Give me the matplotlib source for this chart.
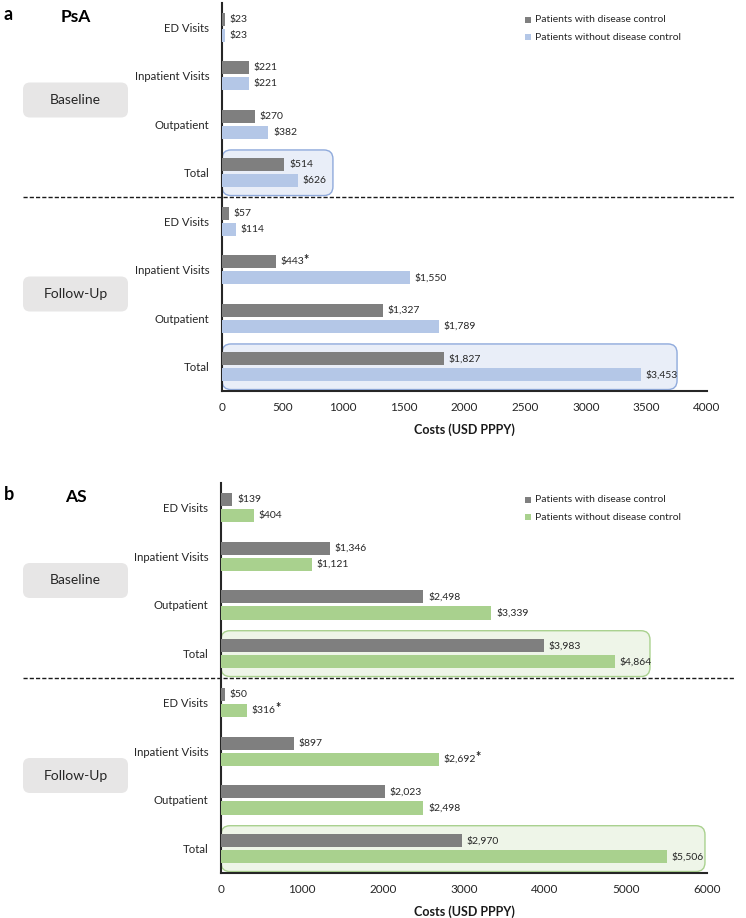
import matplotlib
matplotlib.use("Agg")
import matplotlib.pyplot as plt
from matplotlib.patches import FancyBboxPatch, Rectangle
import numpy as np

plt.rcParams['font.family'] = ['Lato', 'DejaVu Sans']

categories = ["ED Visits", "Inpatient Visits", "Outpatient", "Total",
              "ED Visits", "Inpatient Visits", "Outpatient", "Total"]
sections = ["Baseline", "Follow-Up"]
series_names = ["Patients with disease control", "Patients without disease control"]

psa_control = [23, 221, 270, 514, 57, 443, 1327, 1827]
psa_nocontrol = [23, 221, 382, 626, 114, 1550, 1789, 3453]
psa_star_control = [False, False, False, False, False, True, False, False]
psa_star_nocontrol = [False] * 8

as_control = [139, 1346, 2498, 3983, 50, 897, 2023, 2970]
as_nocontrol = [404, 1121, 3339, 4864, 316, 2692, 2498, 5506]
as_star_control = [False] * 8
as_star_nocontrol = [False, False, False, False, True, True, False, False]

psa_ticks = [0, 500, 1000, 1500, 2000, 2500, 3000, 3500, 4000]
as_ticks = [0, 1000, 2000, 3000, 4000, 5000, 6000]

GREY = "#7f7f7f"
BLUE = "#b4c7e7"
GREEN = "#a9d18e"

W, H = 746, 918
DPI = 100
fig = plt.figure(figsize=(W / DPI, H / DPI), dpi=DPI)
renderer = fig.canvas.get_renderer()


def px_axes(x0, y0, x1, y1):
    return fig.add_axes([x0 / W, 1 - y1 / H, (x1 - x0) / W, (y1 - y0) / H])


def add_value(ax, x, yv, v, star, dx):
    t = ax.text(x + dx, yv, f"\\${v:,}", va="center", ha="left", fontsize=7.5,
                color="#262626", zorder=4)
    if star:
        bb = t.get_window_extent(renderer)
        fig.text((bb.x1 - 0.5) / W, (bb.y1 + 3.5) / H, "*", fontsize=9,
                 fontweight="bold", ha="left", va="top", color="#262626",
                 zorder=5)


def panel(ax, ctrl, nctrl, sc, snc, color, ticks, xmax, box_ext, edge, fill,
          letter, title, ytop, ybot):
    y = np.arange(len(categories))
    off, bh = 0.165, 0.27
    ax.set_ylim(7.5, -0.5)
    ax.set_xlim(0, xmax)
    ax.barh(y - off, ctrl, height=bh, color=GREY, zorder=3, label=series_names[0])
    ax.barh(y + off, nctrl, height=bh, color=color, zorder=3, label=series_names[1])
    dx = xmax * 0.01
    for yi, v, s in zip(y - off, ctrl, sc):
        add_value(ax, v, yi, v, s, dx)
    for yi, v, s in zip(y + off, nctrl, snc):
        add_value(ax, v, yi, v, s, dx)
    ax.set_yticks(y)
    ax.set_yticklabels(categories, fontsize=8.2, color="#262626")
    ax.set_xticks(ticks)
    ax.set_xticklabels([str(t) for t in ticks], fontsize=8.5, color="#262626")
    ax.tick_params(length=0, pad=8)
    ax.tick_params(axis='y', pad=9)
    for s in ["top", "right"]:
        ax.spines[s].set_visible(False)
    for s in ["left", "bottom"]:
        ax.spines[s].set_linewidth(1.5)
        ax.spines[s].set_color("#262626")
    ax.set_xlabel("Costs (USD PPPY)", fontsize=9, fontweight="bold", labelpad=7,
                  color="#1a1a1a")
    # highlight boxes behind totals, drawn in inches (isotropic rounding)
    for idx, ext in zip([3, 7], box_ext):
        (xa, ya) = ax.transData.transform((0, idx + 0.47))
        (xb, yb) = ax.transData.transform((ext, idx - 0.47))
        p = FancyBboxPatch((xa / DPI, ya / DPI), (xb - xa) / DPI, (yb - ya) / DPI,
                           boxstyle="round,pad=0,rounding_size=0.09",
                           transform=fig.dpi_scale_trans, facecolor=fill,
                           edgecolor=edge, linewidth=1.0, zorder=0.5)
        fig.add_artist(p)
    ax.patch.set_alpha(0)
    ax.set_zorder(2)
    # dashed separator
    ymid = (ytop + ybot) / 2
    fig.add_artist(plt.Line2D([23 / W, 735 / W], [1 - ymid / H, 1 - ymid / H],
                              color="#1a1a1a", linestyle=(0, (3, 1.5)), linewidth=1.0))
    # section boxes
    for k, name in enumerate(sections):
        cy = ytop + (ybot - ytop) * (0.25 + 0.5 * k)
        bx = FancyBboxPatch((23 / DPI, (H - cy - 17.5) / DPI), 105 / DPI, 35 / DPI,
                            boxstyle="round,pad=0,rounding_size=0.07",
                            transform=fig.dpi_scale_trans, facecolor="#e7e6e6",
                            edgecolor="none")
        fig.add_artist(bx)
        fig.text(75.5 / W, 1 - cy / H, name, ha="center", va="center",
                 fontsize=10, color="#262626")
    fig.text(4 / W, 1 - (ytop + 12) / H, letter, fontsize=13, fontweight="bold",
             va="center", ha="left")
    fig.text(76 / W, 1 - (ytop + 14) / H, title, fontsize=12.5, fontweight="bold",
             va="center", ha="center")
    # legend
    for k, (nm, c) in enumerate(zip(series_names, [GREY, color])):
        ly = ytop + 17 + 17 * k
        fig.add_artist(Rectangle((525 / W, 1 - (ly + 3) / H), 6 / W, 6 / H,
                                 transform=fig.transFigure, facecolor=c,
                                 edgecolor="none"))
        fig.text(535 / W, 1 - ly / H, nm, fontsize=7.5, va="center", ha="left",
                 color="#262626")


ax1 = px_axes(222, 3, 707, 391)
panel(ax1, psa_control, psa_nocontrol, psa_star_control, psa_star_nocontrol, BLUE,
      psa_ticks, 4000, [915, 3753], "#8faadc", "#e9eef8", "a", "PsA", 3, 391)

ax2 = px_axes(221, 483, 707, 873)
panel(ax2, as_control, as_nocontrol, as_star_control, as_star_nocontrol, GREEN,
      as_ticks, 6000, [5296, 5975], "#a9d18e", "#eef5e8", "b", "AS", 483, 873)

fig.savefig("out.png", dpi=DPI)
